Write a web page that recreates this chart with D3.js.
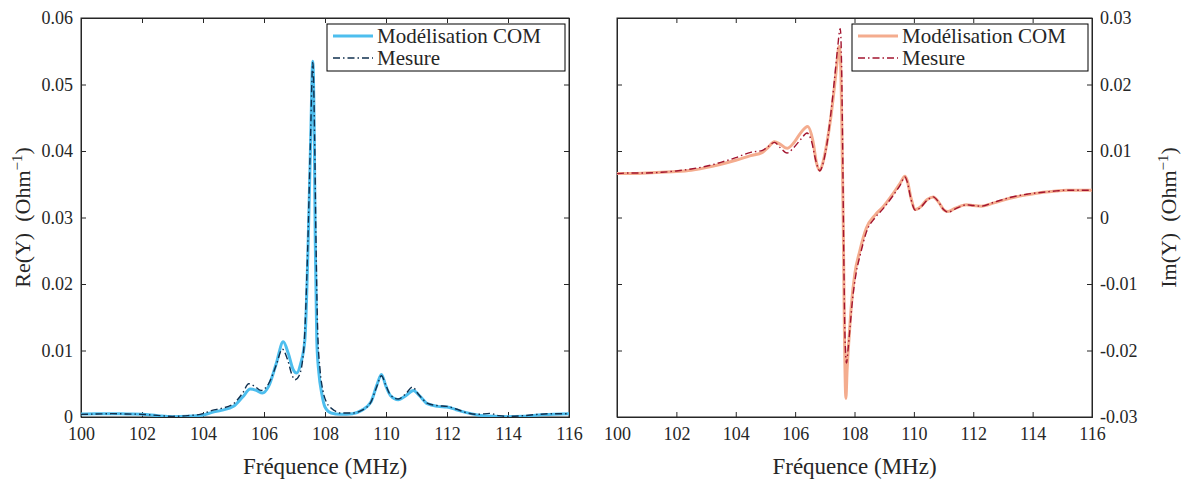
<!DOCTYPE html>
<html><head><meta charset="utf-8">
<script src="https://cdn.jsdelivr.net/npm/d3@7"></script>
<style>
body{margin:0;background:#fff;}
svg text{font-family:"Liberation Serif","Times New Roman",serif;fill:#262626;white-space:pre;}
</style></head>
<body><svg id="c" width="1184" height="484"></svg>
<script>
// ---------- data ----------
const xTicks = [100,102,104,106,108,110,112,114,116];
const reTicks = [0,0.01,0.02,0.03,0.04,0.05,0.06];
const imTicks = [-0.03,-0.02,-0.01,0,0.01,0.02,0.03];
const seriesNames = ["Modélisation COM","Mesure"];

const reComFreq = [100,100.5,101,101.5,102,102.5,103,103.5,104,104.3,104.6,105,105.3,105.55,105.75,105.95,106.15,106.4,106.63,106.8,106.95,107.07,107.2,107.34,107.45,107.53,107.6,107.65,107.68,107.73,107.8,107.89,108,108.2,108.5,108.9,109.2,109.5,109.7,109.85,110,110.15,110.4,110.65,110.9,111.1,111.35,111.7,112,112.3,112.6,113,113.5,114,114.5,115,115.5,116];
const reCom = [0.00045,0.0005,0.0005,0.00045,0.0004,0.0002,0.00005,0.0001,0.0003,0.0007,0.001,0.0016,0.003,0.0042,0.004,0.0036,0.0046,0.008,0.0113,0.0095,0.0072,0.0066,0.008,0.0116,0.0266,0.0417,0.0535,0.0417,0.0266,0.0116,0.0066,0.0036,0.0015,0.0006,0.0004,0.0005,0.001,0.0022,0.0048,0.0064,0.0046,0.0032,0.0026,0.0032,0.004,0.0032,0.002,0.0016,0.0015,0.0011,0.0007,0.0003,0.0001,0.00005,0.0001,0.0003,0.0004,0.0005];

const reMesFreq = [100,100.5,101,101.5,102,102.5,103,103.5,104,104.3,104.6,105,105.3,105.5,105.7,105.9,106.15,106.4,106.6,106.78,106.92,107.02,107.15,107.3,107.43,107.52,107.6,107.66,107.7,107.76,107.84,107.93,108.05,108.16,108.3,108.5,108.9,109.2,109.5,109.7,109.85,110,110.15,110.4,110.65,110.87,111.05,111.35,111.7,112,112.3,112.6,113,113.4,113.7,114,114.5,115,115.5,116];
const reMes = [0.0004,0.00045,0.0005,0.00045,0.0004,0.00025,0.0001,0.0002,0.0005,0.001,0.0013,0.002,0.0036,0.005,0.0046,0.004,0.005,0.0078,0.0102,0.0085,0.0063,0.0056,0.0062,0.01,0.025,0.041,0.0533,0.042,0.028,0.013,0.007,0.004,0.0022,0.0015,0.001,0.0006,0.0006,0.001,0.0022,0.0046,0.0062,0.0047,0.0033,0.0027,0.0035,0.0045,0.0035,0.0021,0.0017,0.0016,0.0012,0.0007,0.0004,0.00055,0.0002,0.0001,0.0002,0.0004,0.0005,0.0005];

const imComFreq = [100,100.5,101,101.5,102,102.5,103,103.5,104,104.5,104.9,105.1,105.3,105.5,105.73,105.95,106.2,106.42,106.6,106.72,106.83,106.95,107.07,107.2,107.32,107.4,107.48,107.53,107.57,107.62,107.66,107.71,107.75,107.82,107.9,108.01,108.18,108.4,108.7,108.96,109.3,109.53,109.7,109.78,109.9,110.05,110.2,110.45,110.65,110.85,111,111.15,111.4,111.77,112,112.27,112.7,113.23,113.8,114.35,114.8,115.14,115.5,116];
const imCom = [0.0066,0.0066,0.0067,0.0068,0.0069,0.0071,0.0075,0.008,0.0086,0.0093,0.0098,0.0106,0.0114,0.011,0.0104,0.0112,0.0128,0.0137,0.0115,0.0082,0.0071,0.0085,0.0112,0.015,0.0195,0.0228,0.0257,0.0235,0.015,-0.0004,-0.017,-0.0272,-0.023,-0.0179,-0.0129,-0.0085,-0.005,-0.0016,0.0004,0.0016,0.0036,0.0051,0.0062,0.0055,0.003,0.0012,0.0015,0.0027,0.0031,0.0022,0.0012,0.0009,0.0014,0.0019,0.0018,0.0017,0.0022,0.0029,0.0034,0.0038,0.004,0.0041,0.0041,0.0041];

const imMesFreq = [100,100.5,101,101.5,102,102.5,103,103.5,104,104.5,104.9,105.1,105.3,105.5,105.73,105.95,106.2,106.4,106.55,106.7,106.83,106.95,107.07,107.2,107.32,107.42,107.52,107.56,107.6,107.64,107.68,107.73,107.78,107.85,107.93,108.05,108.2,108.4,108.7,108.96,109.3,109.53,109.7,109.78,109.9,110.05,110.2,110.45,110.65,110.85,111,111.15,111.4,111.77,112,112.27,112.7,113.23,113.8,114.35,114.8,115.14,115.5,116];
const imMes = [0.0066,0.0067,0.0067,0.0068,0.007,0.0073,0.0077,0.0083,0.009,0.0098,0.0101,0.0107,0.0113,0.0105,0.0097,0.0105,0.0118,0.0127,0.0115,0.0085,0.007,0.0083,0.011,0.0155,0.0205,0.025,0.0284,0.024,0.011,-0.006,-0.018,-0.0219,-0.02,-0.0165,-0.0125,-0.0085,-0.0055,-0.0022,0,0.0013,0.0033,0.0048,0.0061,0.0053,0.0028,0.0011,0.0014,0.0026,0.0031,0.0022,0.0012,0.0008,0.0013,0.0019,0.0018,0.0017,0.0023,0.003,0.0035,0.0038,0.004,0.0041,0.0041,0.0041];

// ---------- drawing ----------
const svg = d3.select("#c");
const axisColor = "#262626";
const fmt = v => (Math.abs(v) < 1e-12 ? "0" : d3.format(".2f")(v).replace("\u2212","-"));

function panel(o){
  const x = d3.scaleLinear().domain([100,116]).range([o.x0,o.x1]);
  const y = d3.scaleLinear().domain(o.yDomain).range([o.y1,o.y0]);
  const g = svg.append("g");
  g.append("rect").attr("x",o.x0).attr("y",o.y0).attr("width",o.x1-o.x0).attr("height",o.y1-o.y0)
    .attr("fill","#fff").attr("stroke",axisColor).attr("stroke-width",1);
  const tl = 5;
  const ax = d3.axisBottom(x).tickValues(xTicks).tickSize(-tl).tickPadding(10).tickFormat(d3.format("d"));
  const gb = g.append("g").attr("transform",`translate(0,${o.y1})`).call(ax);
  const gt = g.append("g").attr("transform",`translate(0,${o.y0})`).call(d3.axisTop(x).tickValues(xTicks).tickSize(-tl).tickFormat(""));
  const yl = d3.axisLeft(y).tickValues(o.yTicks).tickSize(-tl).tickPadding(8).tickFormat(fmt);
  const yr = d3.axisRight(y).tickValues(o.yTicks).tickSize(-tl).tickPadding(8).tickFormat(fmt);
  const gl = g.append("g").attr("transform",`translate(${o.x0},0)`).call(o.labelsRight ? yl.tickFormat("") : yl);
  const gr = g.append("g").attr("transform",`translate(${o.x1},0)`).call(o.labelsRight ? yr : yr.tickFormat(""));
  [gb,gt,gl,gr].forEach(a=>{
    a.select(".domain").attr("stroke",axisColor);
    a.selectAll(".tick line").attr("stroke",axisColor);
    a.selectAll("text").attr("font-family","Liberation Serif").attr("font-size",18).attr("fill",axisColor);
  });
  const mk = (fx,fy)=> d3.line().x((d,i)=>x(fx[i])).y((d,i)=>y(fy[i])).curve(d3.curveMonotoneX)(fy);
  const clipId = "clip"+o.id;
  svg.append("clipPath").attr("id",clipId).append("rect").attr("x",o.x0).attr("y",o.y0).attr("width",o.x1-o.x0).attr("height",o.y1-o.y0);
  const lg = g.append("g").attr("clip-path",`url(#${clipId})`);
  lg.append("path").attr("d",mk(o.comF,o.com)).attr("fill","none").attr("stroke",o.comColor).attr("stroke-width",3).attr("stroke-linejoin","round");
  lg.append("path").attr("d",mk(o.mesF,o.mes)).attr("fill","none").attr("stroke",o.mesColor).attr("stroke-width",1.4).attr("stroke-dasharray","7,3,1.5,3");
  g.append("text").attr("x",(o.x0+o.x1)/2).attr("y",474).attr("text-anchor","middle").attr("font-size",23).text("Fréquence (MHz)");
  const yt = g.append("text").attr("transform",`translate(${o.ylx},${(o.y0+o.y1)/2}) rotate(-90)`).attr("text-anchor","middle").attr("font-size",22);
  yt.append("tspan").text(o.yName+"  (Ohm");
  yt.append("tspan").attr("dy",-8).attr("font-size",15).text("\u22121");
  yt.append("tspan").attr("dy",8).text(")");
  const L = o.legend;
  g.append("rect").attr("x",L.x).attr("y",L.y).attr("width",L.w).attr("height",L.h).attr("fill","#fff").attr("stroke","#000").attr("stroke-width",1);
  const rows = [{c:o.comColor,w:3,d:null},{c:o.mesColor,w:1.4,d:"7,3,1.5,3"}];
  rows.forEach((r,i)=>{
    const yy = L.y + 12 + i*22;
    const ln = g.append("line").attr("x1",L.x+6).attr("x2",L.x+46).attr("y1",yy).attr("y2",yy).attr("stroke",r.c).attr("stroke-width",r.w);
    if(r.d) ln.attr("stroke-dasharray",r.d);
    g.append("text").attr("x",L.x+50).attr("y",yy+7).attr("font-size",21).attr("fill","#000").text(seriesNames[i]);
  });
}

panel({id:"re",x0:81,x1:569,y0:18,y1:417,yDomain:[0,0.06],yTicks:reTicks,labelsRight:false,
  comF:reComFreq,com:reCom,mesF:reMesFreq,mes:reMes,comColor:"#4DBEEE",mesColor:"#10304f",
  yName:"Re(Y)",ylx:30,legend:{x:327,y:24,w:238,h:47}});
panel({id:"im",x0:617,x1:1092,y0:18,y1:417,yDomain:[-0.03,0.03],yTicks:imTicks,labelsRight:true,
  comF:imComFreq,com:imCom,mesF:imMesFreq,mes:imMes,comColor:"#F4AC8E",mesColor:"#A2142F",
  yName:"Im(Y)",ylx:1176,legend:{x:852,y:24,w:236,h:47}});
</script></body></html>
